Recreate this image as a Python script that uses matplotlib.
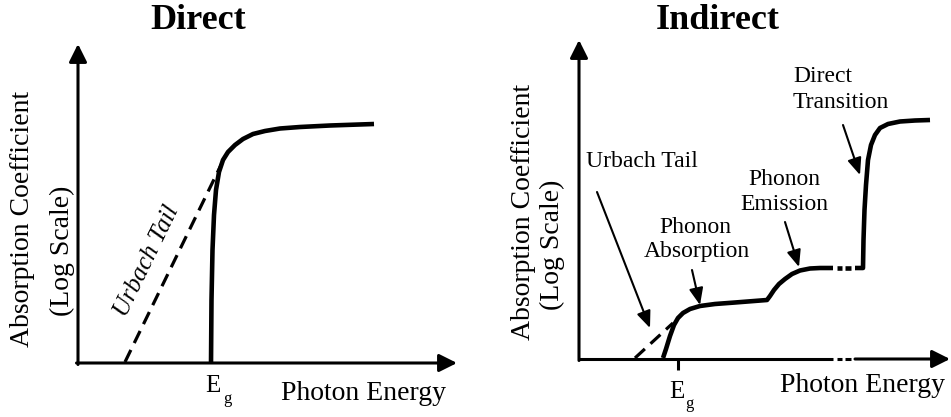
import numpy as np
import matplotlib
matplotlib.use("Agg")
from matplotlib import pyplot as plt

plt.rcParams['font.family'] = ['Liberation Serif', 'DejaVu Serif']

# schematic curves, in figure pixel units (y grows downward)
direct_x = [211, 211.5, 212.5, 214, 216, 219, 223, 228, 235, 243, 253, 265, 280, 300, 330, 374]
direct_y = [364, 300, 250, 215, 190, 172, 160, 152, 145, 139, 134, 131, 128.5, 127, 125.5, 124]
direct_tail = [(125, 362), (222, 163)]

indirect_x = [663, 666, 670, 674, 678, 683, 690, 700, 715, 735, 767,
              770, 774, 779, 785, 792, 800, 810, 820, 833]
indirect_y = [358, 349, 336, 325, 318, 313, 309, 306, 304, 302.5, 300,
              296, 290, 284, 279, 274, 270.5, 268.5, 268, 268]
transition_x = [855, 863, 863.5, 864.5, 866, 868, 871, 875, 880, 888, 900, 915, 930]
transition_y = [268, 268, 240, 210, 185, 160, 145, 135, 128, 124, 121.5, 120.5, 120]
indirect_tail = [(635, 358), (673, 323)]
break_segs = [(837, 842), (845, 851)]

fig = plt.figure(figsize=(9.51, 4.17), dpi=100)
ax = fig.add_axes([0, 0, 1, 1])
ax.set_xlim(0, 951)
ax.set_ylim(417, 0)
ax.axis('off')

AXLW = 2.2
CURVELW = 3.3
axis_arrow = dict(arrowstyle='-|>', lw=AXLW, color='k', mutation_scale=27,
                  shrinkA=0, shrinkB=0)
note_arrow = dict(arrowstyle='-|>,head_length=0.6,head_width=0.25', lw=1.5,
                  color='k', mutation_scale=17, shrinkA=0, shrinkB=0)


def draw_axes(x0, y0, xtip, ytip):
    ax.annotate('', xy=(x0, ytip), xytext=(x0, y0 + 1.5), arrowprops=axis_arrow)
    ax.annotate('', xy=(xtip, y0), xytext=(x0 - 1.5, y0), arrowprops=axis_arrow)


# ---- Direct ----
draw_axes(78, 363, 457, 44)
ax.plot(direct_x, direct_y, color='k', lw=CURVELW, solid_capstyle='butt')
(tx0, ty0), (tx1, ty1) = direct_tail
ax.plot([tx0, tx1], [ty0, ty1], color='k', lw=2.3, dashes=(4.2, 2.4))
ax.text(198, 20, 'Direct', fontsize=26, fontweight='bold', ha='center', va='center')
ax.text(23, 219, 'Absorption Coefficient', fontsize=20, rotation=90, ha='center', va='center')
ax.text(62, 251, '(Log Scale)', fontsize=20, rotation=90, ha='center', va='center')
ax.text(281, 400, 'Photon Energy', fontsize=20, ha='left', va='baseline')
ax.text(213, 392, 'E', fontsize=18, ha='center', va='baseline')
ax.text(227, 403, 'g', fontsize=12, ha='center', va='baseline')
ax.text(147, 261, 'Urbach Tail', fontsize=18, style='italic', rotation=64,
        ha='center', va='center', rotation_mode='anchor')

# ---- Indirect ----
X0, Y0 = 579, 359
ax.annotate('', xy=(X0, 40), xytext=(X0, Y0 + 1.5), arrowprops=axis_arrow)
ax.plot([X0 - 1.5, 833], [Y0, Y0], color='k', lw=AXLW, solid_capstyle='butt')
for a, b in break_segs:
    ax.plot([a, b], [Y0, Y0], color='k', lw=AXLW, solid_capstyle='butt')
ax.annotate('', xy=(950, Y0), xytext=(855, Y0), arrowprops=axis_arrow)
ax.plot([678, 678], [Y0, 370], color='k', lw=AXLW, solid_capstyle='butt')

ax.plot(indirect_x, indirect_y, color='k', lw=CURVELW, solid_capstyle='butt')
for a, b in break_segs:
    ax.plot([a, b], [268, 268], color='k', lw=CURVELW, solid_capstyle='butt')
ax.plot(transition_x, transition_y, color='k', lw=CURVELW, solid_capstyle='butt')
(tx0, ty0), (tx1, ty1) = indirect_tail
ax.plot([tx0, tx1], [ty0, ty1], color='k', lw=2.3, dashes=(4.2, 2.4))

ax.text(718, 20, 'Indirect', fontsize=26, fontweight='bold', ha='center', va='center')
ax.text(523, 212, 'Absorption Coefficient', fontsize=20, rotation=90, ha='center', va='center')
ax.text(552, 245, '(Log Scale)', fontsize=20, rotation=90, ha='center', va='center')
ax.text(780, 392, 'Photon Energy', fontsize=20, ha='left', va='baseline')
ax.text(677, 398, 'E', fontsize=18, ha='center', va='baseline')
ax.text(689, 408, 'g', fontsize=12, ha='center', va='baseline')

ax.text(642, 167, 'Urbach Tail', fontsize=17, ha='center', va='baseline')
ax.annotate('', xy=(650, 328), xytext=(597, 192), arrowprops=note_arrow)
ax.text(695, 233, 'Phonon', fontsize=17, ha='center', va='baseline')
ax.text(697, 257, 'Absorption', fontsize=17, ha='center', va='baseline')
ax.annotate('', xy=(700, 305), xytext=(692, 270), arrowprops=note_arrow)
ax.text(784, 185, 'Phonon', fontsize=17, ha='center', va='baseline')
ax.text(784, 210, 'Emission', fontsize=17, ha='center', va='baseline')
ax.annotate('', xy=(799, 267), xytext=(785, 222), arrowprops=note_arrow)
ax.text(793, 82, 'Direct', fontsize=17, ha='left', va='baseline')
ax.text(793, 108, 'Transition', fontsize=17, ha='left', va='baseline')
ax.annotate('', xy=(860, 175), xytext=(843, 125), arrowprops=note_arrow)

fig.savefig('out.png', dpi=100)
